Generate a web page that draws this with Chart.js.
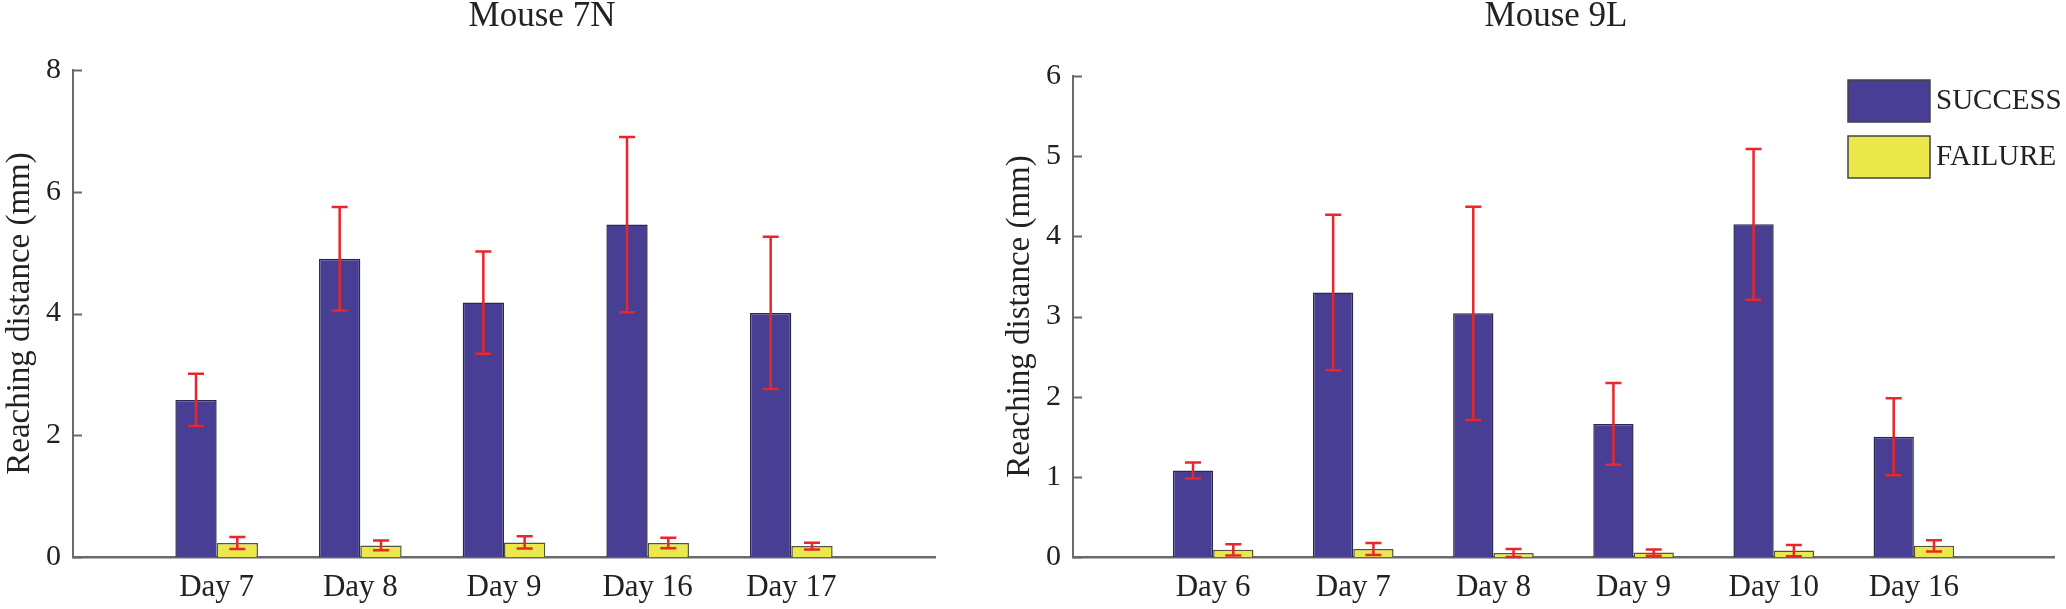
<!DOCTYPE html>
<html><head><meta charset="utf-8">
<script src="https://cdn.jsdelivr.net/npm/chart.js@4.4.1/dist/chart.umd.min.js"></script>
<style>
html,body{margin:0;padding:0;background:#fff;}
body{width:2066px;height:609px;position:relative;overflow:hidden;font-family:"Liberation Serif",serif;}
canvas{position:absolute;top:0;}
#c1{left:0;} #c2{left:1000px;}
</style></head><body>
<canvas id="c1" width="1000" height="609"></canvas>
<canvas id="c2" width="1066" height="609"></canvas>
<script>
// ---- Data: Mouse 7N ----
const days7N = ['Day 7', 'Day 8', 'Day 9', 'Day 16', 'Day 17'];
const success7N = [2.58, 4.90, 4.18, 5.46, 4.01];
const successErr7N = [0.43, 0.85, 0.84, 1.44, 1.25];
const failure7N = [0.23, 0.19, 0.24, 0.23, 0.18];
const failureErr7N = [0.10, 0.08, 0.10, 0.085, 0.055];
const yTicks7N = [0, 2, 4, 6, 8];

// ---- Data: Mouse 9L ----
const days9L = ['Day 6', 'Day 7', 'Day 8', 'Day 9', 'Day 10', 'Day 16'];
const success9L = [1.08, 3.30, 3.04, 1.66, 4.15, 1.50];
const successErr9L = [0.10, 0.97, 1.33, 0.51, 0.94, 0.48];
const failure9L = [0.09, 0.10, 0.05, 0.055, 0.08, 0.14];
const failureErr9L = [0.07, 0.075, 0.05, 0.04, 0.07, 0.07];
const yTicks9L = [0, 1, 2, 3, 4, 5, 6];

const seriesNames = ['SUCCESS', 'FAILURE'];
const yTitle = 'Reaching distance (mm)';

const FONT = '"Liberation Serif", "Times New Roman", Times, serif';
const C_SUCCESS = '#483e93';
const C_FAILURE = '#ebe84b';
const C_ERR = '#e8262b';
const C_AXIS = '#6a6a6a';

const errorBarPlugin = {
  id: 'errorBars',
  afterDatasetsDraw(chart) {
    const ctx = chart.ctx, y = chart.scales.y;
    ctx.save();
    ctx.strokeStyle = C_ERR;
    ctx.lineWidth = 2.5;
    chart.data.datasets.forEach((ds, d) => {
      const meta = chart.getDatasetMeta(d);
      meta.data.forEach((bar, i) => {
        const v = ds.data[i].y, e = ds.errors[i];
        const top = y.getPixelForValue(v + e), bot = y.getPixelForValue(v - e);
        const x = bar.x, cw = 8;
        ctx.beginPath();
        ctx.moveTo(x, top); ctx.lineTo(x, bot);
        ctx.moveTo(x - cw, top); ctx.lineTo(x + cw, top);
        ctx.moveTo(x - cw, bot); ctx.lineTo(x + cw, bot);
        ctx.stroke();
      });
    });
    ctx.restore();
  }
};

const decorPlugin = {
  id: 'decor',
  afterDraw(chart, args, opts) {
    const ctx = chart.ctx, y = chart.scales.y, area = chart.chartArea;
    ctx.save();
    ctx.strokeStyle = C_AXIS;
    ctx.lineWidth = 2;
    y.ticks.forEach(t => {
      const py = Math.round(y.getPixelForValue(t.value)) + 0.5;
      ctx.beginPath();
      ctx.moveTo(area.left, py); ctx.lineTo(area.left + 9, py);
      ctx.stroke();
    });
    ctx.fillStyle = '#222';
    ctx.font = '35px ' + FONT;
    ctx.textAlign = 'center';
    ctx.textBaseline = 'middle';
    ctx.fillText(opts.title, opts.titleX, opts.titleY);
    if (opts.legend) {
      const L = opts.legend;
      chart.data.datasets.forEach((ds, d) => {
        const top = L.y + d * L.step;
        ctx.fillStyle = ds.backgroundColor;
        ctx.fillRect(L.x, top, L.w, L.h);
        ctx.strokeStyle = '#444';
        ctx.lineWidth = 1.5;
        ctx.strokeRect(L.x, top, L.w, L.h);
        ctx.fillStyle = '#222';
        ctx.font = '29px ' + FONT;
        ctx.textAlign = 'left';
        ctx.textBaseline = 'middle';
        ctx.fillText(ds.label, L.x + L.w + 6, top + L.h / 2);
      });
    }
    ctx.restore();
  }
};

function makeChart(id, days, succ, succErr, fail, failErr, yTicks, title, layout) {
  const toPts = arr => arr.map((v, i) => ({ x: i + 1, y: v }));
  return new Chart(document.getElementById(id), {
    type: 'bar',
    data: {
      datasets: [
        { label: seriesNames[0], data: toPts(succ), errors: succErr,
          backgroundColor: C_SUCCESS, borderColor: '#2b2850', borderWidth: 1.5,
          categoryPercentage: 0.575, barPercentage: 1.0 },
        { label: seriesNames[1], data: toPts(fail), errors: failErr,
          backgroundColor: C_FAILURE, borderColor: '#55553a', borderWidth: 1.5,
          categoryPercentage: 0.575, barPercentage: 1.0 }
      ]
    },
    options: {
      responsive: false,
      animation: false,
      devicePixelRatio: 1,
      layout: { padding: { top: layout.top, right: layout.right, left: 0, bottom: 0 } },
      plugins: {
        legend: { display: false },
        tooltip: { enabled: false },
        decor: { title: title, titleX: layout.titleX, titleY: 17, legend: layout.legend }
      },
      scales: {
        x: {
          type: 'linear', offset: false, min: 0, max: days.length + 1,
          grid: { display: false, drawTicks: false, tickLength: 0 },
          border: { display: true, color: C_AXIS, width: 2.5 },
          ticks: {
            stepSize: 1, autoSkip: false, maxRotation: 0, padding: 12,
            color: '#222', font: { family: FONT, size: 31 },
            callback: v => days[v - 1] || ''
          },
          afterFit: s => { s.height = 52; }
        },
        y: {
          min: yTicks[0], max: yTicks[yTicks.length - 1],
          afterBuildTicks: s => { s.ticks = yTicks.map(v => ({ value: v })); },
          grid: { display: false, drawTicks: false, tickLength: 0 },
          border: { display: true, color: C_AXIS, width: 2 },
          ticks: { padding: 12, color: '#222', font: { family: FONT, size: 30 } },
          title: { display: true, text: yTitle, color: '#222',
                   font: { family: FONT, size: 33 }, padding: { top: 1, bottom: 0 } },
          afterFit: s => { s.width = 73; }
        }
      }
    },
    plugins: [errorBarPlugin, decorPlugin]
  });
}

function draw() {
  makeChart('c1', days7N, success7N, successErr7N, failure7N, failureErr7N, yTicks7N,
    'Mouse 7N', { top: 70, right: 65, titleX: 542, legend: null });
  makeChart('c2', days9L, success9L, successErr9L, failure9L, failureErr9L, yTicks9L,
    'Mouse 9L', { top: 76, right: 8, titleX: 556,
      legend: { x: 848, y: 80, w: 82, h: 42, step: 56 } });
}

Promise.all([
  document.fonts.load('30px "Liberation Serif"'),
  document.fonts.load('35px "Liberation Serif"')
]).then(draw, draw);
</script>
</body></html>
